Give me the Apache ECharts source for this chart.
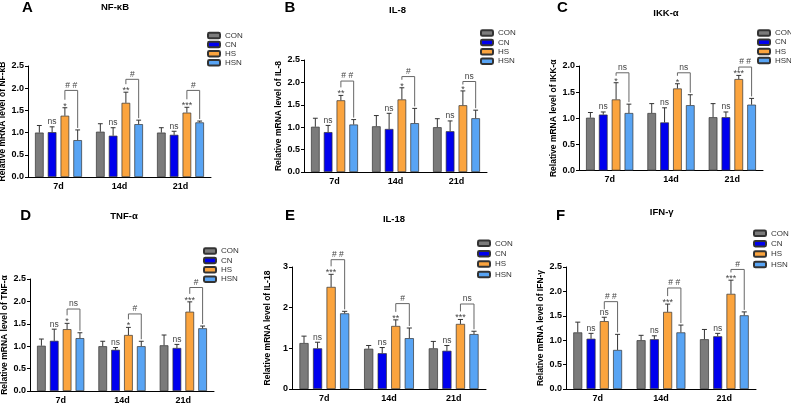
<!DOCTYPE html>
<html><head><meta charset="utf-8">
<script src="https://cdn.jsdelivr.net/npm/echarts@6/dist/echarts.min.js"></script>
<style>html,body{margin:0;padding:0;background:#fff}#c{width:791px;height:405px}</style>
</head><body><div id="c"></div>
<script>
// ---------- data ----------
const categories = ['7d', '14d', '21d'];
const groups = ['CON', 'CN', 'HS', 'HSN'];
const panelLetters = ['A', 'B', 'C', 'D', 'E', 'F'];
const panelGenes = ['NF-κB', 'IL-8', 'IKK-α', 'TNF-α', 'IL-18', 'IFN-γ'];
const yMaxes = [2.5, 2.5, 2.0, 2.5, 3, 2.5];
const ySteps = [0.5, 0.5, 0.5, 0.5, 1, 0.5];

// rows: CON, CN, HS, HSN ; columns: 7d, 14d, 21d
const nfkbMean = [[1.00, 1.02, 1.00], [1.01, 0.93, 0.95], [1.38, 1.67, 1.45], [0.83, 1.19, 1.23]];
const nfkbSD   = [[0.16, 0.18, 0.11], [0.12, 0.18, 0.08], [0.18, 0.24, 0.12], [0.23, 0.09, 0.03]];
const nfkbCN = ['ns', 'ns', 'ns'];
const nfkbHS = ['*', '**', '***'];
const nfkbHash = ['# #', '#', '#'];
const nfkbBracket = [1.95, 2.20, 1.95];

const il8Mean = [[1.01, 1.02, 1.00], [0.89, 0.96, 0.91], [1.60, 1.62, 1.49], [1.06, 1.09, 1.20]];
const il8SD   = [[0.19, 0.24, 0.19], [0.15, 0.35, 0.23], [0.11, 0.26, 0.32], [0.11, 0.33, 0.18]];
const il8CN = ['ns', 'ns', 'ns'];
const il8HS = ['**', '*', '*'];
const il8Hash = ['# #', '#', 'ns'];
const il8Bracket = [2.03, 2.13, 2.02];

const ikkMean = [[1.01, 1.10, 1.02], [1.07, 0.92, 1.02], [1.36, 1.57, 1.75], [1.10, 1.25, 1.26]];
const ikkSD   = [[0.10, 0.18, 0.26], [0.05, 0.28, 0.10], [0.32, 0.09, 0.07], [0.17, 0.20, 0.12]];
const ikkCN = ['ns', 'ns', 'ns'];
const ikkHS = ['*', '*', '***'];
const ikkHash = ['ns', 'ns', '# #'];
const ikkBracket = [1.87, 1.87, 1.98];

const tnfMean = [[1.01, 1.00, 1.02], [1.12, 0.92, 0.96], [1.38, 1.25, 1.77], [1.18, 1.00, 1.40]];
const tnfSD   = [[0.15, 0.11, 0.23], [0.26, 0.05, 0.08], [0.13, 0.17, 0.22], [0.12, 0.11, 0.05]];
const tnfCN = ['ns', 'ns', 'ns'];
const tnfHS = ['*', '*', '***'];
const tnfHash = ['ns', '#', '#'];
const tnfBracket = [1.83, 1.72, 2.31];

const il18Mean = [[1.13, 0.99, 1.00], [1.00, 0.88, 0.94], [2.51, 1.55, 1.60], [1.86, 1.25, 1.35]];
const il18SD   = [[0.17, 0.08, 0.17], [0.15, 0.14, 0.13], [0.31, 0.15, 0.11], [0.05, 0.25, 0.07]];
const il18CN = ['ns', 'ns', 'ns'];
const il18HS = ['***', '**', '***'];
const il18Hash = ['# #', '#', 'ns'];
const il18Bracket = [3.18, 2.10, 2.09];

const ifnMean = [[1.16, 1.00, 1.02], [1.03, 1.02, 1.08], [1.39, 1.58, 1.95], [0.80, 1.16, 1.51]];
const ifnSD   = [[0.21, 0.10, 0.20], [0.11, 0.07, 0.06], [0.08, 0.16, 0.28], [0.32, 0.15, 0.07]];
const ifnCN = ['ns', 'ns', 'ns'];
const ifnHS = ['ns', '***', '***'];
const ifnHash = ['# #', '# #', '#'];
const ifnBracket = [1.79, 2.07, 2.45];

const panelData = [
  {mean: nfkbMean, sd: nfkbSD, cn: nfkbCN, hs: nfkbHS, hash: nfkbHash, bracket: nfkbBracket},
  {mean: il8Mean, sd: il8SD, cn: il8CN, hs: il8HS, hash: il8Hash, bracket: il8Bracket},
  {mean: ikkMean, sd: ikkSD, cn: ikkCN, hs: ikkHS, hash: ikkHash, bracket: ikkBracket},
  {mean: tnfMean, sd: tnfSD, cn: tnfCN, hs: tnfHS, hash: tnfHash, bracket: tnfBracket},
  {mean: il18Mean, sd: il18SD, cn: il18CN, hs: il18HS, hash: il18Hash, bracket: il18Bracket},
  {mean: ifnMean, sd: ifnSD, cn: ifnCN, hs: ifnHS, hash: ifnHash, bracket: ifnBracket}
];

// ---------- layout & style ----------
const FONT = "'Liberation Sans', Arial, sans-serif";
const groupColors = ['#7b7b7b', '#0000ee', '#fba43e', '#58a4f4'];
const gridBoxes = [
  {left: 28, top: 66, width: 183, height: 111},
  {left: 304, top: 60, width: 183, height: 112},
  {left: 579, top: 66, width: 184, height: 104.5},
  {left: 30, top: 279, width: 184, height: 112},
  {left: 292, top: 267, width: 194, height: 122},
  {left: 566, top: 267, width: 190, height: 122}
];
const nameGaps = [20, 16, 19, 18, 20, 21];
const legendPos = [
  {left: 207, top: 31.5, gap: 1.1},
  {left: 480, top: 29, gap: 1.4},
  {left: 757, top: 29, gap: 1.2},
  {left: 203, top: 247, gap: 1.4},
  {left: 477, top: 239.3, gap: 2.4},
  {left: 753, top: 229.3, gap: 2.4}
];
const letterPos = [[27.5, 7.5], [290, 7.5], [562.5, 7.5], [25.7, 215.5], [290, 216], [560.5, 216]];
const genePos = [[115, 7], [397.5, 10], [666, 13.3], [124, 216], [394, 219], [661.7, 212.3]];

const CAT_GAP = 0.23, BAR_GAP = 0.48;

function barLayout(W) {
  const n = 4;
  const b = (W * (1 - CAT_GAP)) / (n + (n - 1) * BAR_GAP);
  const sum = n * b + (n - 1) * b * BAR_GAP;
  let off = -sum / 2;
  const centers = [];
  for (let i = 0; i < n; i++) { centers.push(off + b / 2); off += b * (1 + BAR_GAP); }
  return {b, centers};
}

function txt(x, y, s, size) {
  return {type: 'text', silent: true, style: {text: s, x: x, y: y, align: 'center', verticalAlign: 'bottom',
    fill: '#444', fontSize: size || 8.5, fontFamily: FONT}};
}

function makeRender(p) {
  const d = panelData[p];
  return function (params, api) {
    const ci = api.value(0);
    const cx = api.coord([ci, 0])[0];
    const W = api.size([1, 0])[0];
    const L = barLayout(W);
    const yPx = v => api.coord([ci, v])[1];
    const ch = [];
    const errTop = [];
    for (let s = 0; s < 4; s++) {
      const x = cx + L.centers[s];
      const m = d.mean[s][ci];
      const y0 = yPx(m), y1 = yPx(m + d.sd[s][ci]);
      errTop.push(y1);
      const cw = L.b * 0.28;
      ch.push({type: 'line', silent: true, shape: {x1: x, y1: y0, x2: x, y2: y1}, style: {stroke: '#333', lineWidth: 1}});
      ch.push({type: 'line', silent: true, shape: {x1: x - cw, y1: y1, x2: x + cw, y2: y1}, style: {stroke: '#333', lineWidth: 1}});
    }
    const cnS = d.cn[ci], hsS = d.hs[ci];
    ch.push(txt(cx + L.centers[1], errTop[1] - 0.5, cnS, 8.5));
    const isStar = hsS.indexOf('*') >= 0;
    ch.push(txt(cx + L.centers[2], errTop[2] + (isStar ? 3 : -0.5), hsS, isStar ? 9 : 8.5));
    const xl = cx + L.centers[2], xr = cx + L.centers[3];
    const yt = yPx(d.bracket[ci]);
    const yl = Math.max(errTop[2] - 8, yt + 3);
    const yr = errTop[3] - 2;
    ch.push({type: 'polyline', silent: true, shape: {points: [[xl, yl], [xl, yt], [xr, yt], [xr, yr]]},
      style: {stroke: '#666', lineWidth: 1, fill: null}});
    ch.push(txt((xl + xr) / 2, yt - 0.5, d.hash[ci], 8.5));
    return {type: 'group', children: ch};
  };
}

// ---------- build option ----------
const grid = [], xAxis = [], yAxis = [], series = [], legend = [], graphic = [];
for (let p = 0; p < 6; p++) {
  grid.push(Object.assign({containLabel: false, outerBoundsMode: 'none'}, gridBoxes[p]));
  xAxis.push({
    type: 'category', gridIndex: p, data: categories,
    axisLine: {lineStyle: {color: '#000', width: 1}},
    axisTick: {show: false},
    axisLabel: {color: '#000', fontWeight: 'bold', fontSize: 9, fontFamily: FONT, margin: 5},
    splitLine: {show: false}
  });
  yAxis.push({
    type: 'value', gridIndex: p, min: 0, max: yMaxes[p], interval: ySteps[p],
    name: 'Relative mRNA level of ' + panelGenes[p], nameLocation: 'middle', nameGap: nameGaps[p],
    nameTextStyle: {color: '#000', fontWeight: 'bold', fontSize: 8.5, fontFamily: FONT},
    axisLine: {show: true, lineStyle: {color: '#000', width: 1}},
    axisTick: {show: true, length: 3, lineStyle: {color: '#000'}},
    axisLabel: {color: '#000', fontWeight: 'bold', fontSize: 9, fontFamily: FONT, margin: 4,
      formatter: v => ySteps[p] < 1 ? v.toFixed(1) : String(v)},
    splitLine: {show: false}
  });
  for (let s = 0; s < 4; s++) {
    series.push({
      type: 'bar', name: groups[s], xAxisIndex: p, yAxisIndex: p,
      data: panelData[p].mean[s],
      barGap: (BAR_GAP * 100) + '%', barCategoryGap: (CAT_GAP * 100) + '%',
      itemStyle: {color: groupColors[s], borderColor: '#333', borderWidth: 0.7},
      emphasis: {disabled: true}, silent: true
    });
  }
  series.push({
    type: 'custom', xAxisIndex: p, yAxisIndex: p, silent: true, clip: false, z: 5,
    data: [[0, 0], [1, 0], [2, 0]], encode: {x: 0, y: 1},
    renderItem: makeRender(p)
  });
  legend.push({
    data: groups, orient: 'vertical', left: legendPos[p].left, top: legendPos[p].top,
    itemWidth: 12, itemHeight: 5.5, itemGap: legendPos[p].gap, selectedMode: false, padding: 0,
    textStyle: {fontSize: 8, color: '#333', fontFamily: FONT, lineHeight: 8}
  });
  graphic.push({type: 'text', x: letterPos[p][0], y: letterPos[p][1], silent: true,
    style: {text: panelLetters[p], align: 'center', verticalAlign: 'middle', fill: '#000',
      font: "bold 15px 'Liberation Sans', Arial, sans-serif"}});
  graphic.push({type: 'text', x: genePos[p][0], y: genePos[p][1], silent: true,
    style: {text: panelGenes[p], align: 'center', verticalAlign: 'middle', fill: '#000',
      font: "bold 9.5px 'Liberation Sans', Arial, sans-serif"}});
}

const chart = echarts.init(document.getElementById('c'), null, {renderer: 'canvas'});
chart.setOption({
  animation: false, backgroundColor: '#fff',
  grid, xAxis, yAxis, series, legend, graphic
});
</script></body></html>
